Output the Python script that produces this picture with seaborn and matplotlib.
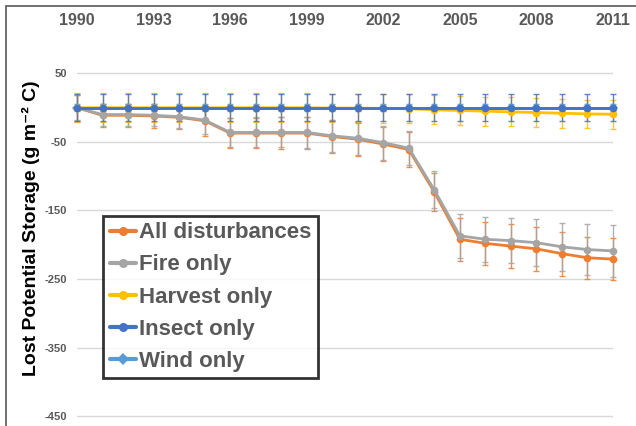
import matplotlib
matplotlib.use("Agg")
import matplotlib.pyplot as plt
import seaborn as sns
import pandas as pd
from matplotlib.lines import Line2D
from matplotlib.patches import Rectangle

# ---------------- data ----------------
years = [1990, 1991, 1992, 1993, 1994, 1995, 1996, 1997, 1998, 1999, 2000,
         2001, 2002, 2003, 2004, 2005, 2006, 2007, 2008, 2009, 2010, 2011]
all_dist = [0, -11, -11, -12, -14, -19, -37, -37, -37, -37, -42,
            -46, -53, -61, -123, -192, -198, -202, -206, -213, -219, -221]
fire_only = [0, -10, -10, -11, -13, -18, -36, -36, -36, -36, -41,
             -44.5, -51, -59, -120, -187, -192, -194, -197, -203, -207, -209]
harvest_only = [0, 0, 0, 0, 0, 0, 0, 0, 0, 0, -0.5,
                -0.5, -1, -1.5, -3, -4, -5, -6, -7, -8, -9, -9.5]
insect_only = [0, 0, 0, 0, 0, 0, 0, 0, 0, 0, 0,
               0, 0, 0, 0, 0, 0, 0, 0, 0, 0, 0]
wind_only = [0, 0, 0, 0, 0, 0, 0, 0, 0, 0, 0,
             0, 0, 0, 0, 0, 0, 0, 0, 0, 0, 0]

all_err = [19, 17, 17, 17, 17, 22, 22, 22, 23, 23, 24,
           24, 25, 26, 28, 31, 31, 32, 32, 32, 31, 31]
fire_err = [18, 16, 16, 16, 16, 21, 21, 22, 22, 23, 23,
            24, 25, 25, 27, 32, 33, 33, 34, 35, 37, 38]
harvest_err = [21, 21, 21, 21, 21, 21, 21, 21, 21, 21, 21,
               21, 21, 21, 21, 21, 21, 21, 21, 21, 21, 21]
insect_err = [20, 20, 20, 20, 20, 20, 20, 20, 20, 20, 20,
              20, 20, 20, 20, 20, 20, 20, 20, 20, 20, 20]
wind_err = [5, 5, 5, 5, 5, 5, 5, 5, 5, 5, 5,
            5, 5, 5, 5, 5, 5, 5, 5, 5, 5, 5]

series_names = ["All disturbances", "Fire only", "Harvest only", "Insect only", "Wind only"]
x_ticks = [1990, 1993, 1996, 1999, 2002, 2005, 2008, 2011]
y_ticks = [50, -50, -150, -250, -350, -450]
y_label = "Lost Potential Storage (g m\u207b\u00b2 C)"

# ---------------- style ----------------
sns.set_theme(style="white")
plt.rcParams["font.family"] = ["Liberation Sans", "DejaVu Sans"]
plt.rcParams["font.weight"] = "bold"

colors = {"All disturbances": "#ED7D31", "Fire only": "#A5A5A5",
          "Harvest only": "#FFC000", "Insect only": "#4472C4",
          "Wind only": "#5B9BD5"}
markers = {"All disturbances": "o", "Fire only": "o", "Harvest only": "o",
           "Insect only": "o", "Wind only": "D"}

W, H = 636, 426
fig = plt.figure(figsize=(W / 100, H / 100), dpi=100)
ax_left, ax_right, ax_top = 77, 613, 60
ax = fig.add_axes([ax_left / W, 0, (ax_right - ax_left) / W, 1 - ax_top / H])

# y mapping: value 0 at px 107.75, 0.685 px per unit
ytop = (107.75 - ax_top) / 0.685
ybot = -(H - 107.75) / 0.685

values = {"All disturbances": all_dist, "Fire only": fire_only,
          "Harvest only": harvest_only, "Insect only": insect_only,
          "Wind only": wind_only}
errors = {"All disturbances": all_err, "Fire only": fire_err,
          "Harvest only": harvest_err, "Insect only": insect_err,
          "Wind only": wind_err}

draw_order = ["Wind only", "All disturbances", "Fire only", "Harvest only", "Insect only"]
for z, name in enumerate(draw_order):
    df = pd.DataFrame({"year": years, "value": values[name]})
    ax.errorbar(years, values[name], yerr=errors[name], fmt="none",
                ecolor=colors[name], elinewidth=1.0, capsize=2.2,
                capthick=1.0, alpha=0.85, zorder=2 + z * 0.1, clip_on=False)
    sns.lineplot(data=df, x="year", y="value", ax=ax, color=colors[name],
                 marker=markers[name], markersize=5.5, markeredgewidth=0,
                 linewidth=2.0, zorder=3 + z * 0.1, clip_on=False,
                 legend=False)

ax.set_xlim(1990, 2011)
ax.set_ylim(ybot, ytop)
ax.set_xticks(x_ticks)
ax.set_xticklabels([str(t) for t in x_ticks])
ax.set_yticks(y_ticks)
ax.set_yticklabels([str(t) for t in y_ticks])
ax.xaxis.tick_top()
ax.tick_params(axis="x", length=0, pad=23, labelsize=11.5, labelcolor="#595959")
ax.tick_params(axis="y", length=0, pad=7, labelsize=8, labelcolor="#595959")
for lab in ax.get_xticklabels() + ax.get_yticklabels():
    lab.set_fontweight("bold")
ax.set_xlabel("")
ax.set_ylabel("")
ax.grid(axis="y", color="#D9D9D9", linewidth=1.0)
ax.grid(axis="x", visible=False)
for s in ax.spines.values():
    s.set_visible(False)
ax.set_facecolor("none")

fig.text(31 / W, 1 - 228 / H, y_label, rotation=90, ha="center", va="center",
         fontsize=14, fontweight="bold", color="black")

# figure border (top/left visible)
fig.add_artist(Rectangle((6 / W, -0.1), 1.2, 1.1 - 6 / H,
                         transform=fig.transFigure, fill=False,
                         edgecolor="#595959", linewidth=1.2))

# legend
handles = [Line2D([0], [0], color=colors[n], marker=markers[n], markersize=6.5,
                  markeredgewidth=0, linewidth=3) for n in series_names]
leg = fig.legend(handles, series_names, loc="upper left",
                 bbox_to_anchor=(103 / W, 1 - 215.7 / H),
                 bbox_transform=fig.transFigure, borderaxespad=0,
                 frameon=True, fancybox=False, edgecolor="black",
                 prop={"size": 16, "weight": "bold"}, labelcolor="#595959",
                 handlelength=1.2, handletextpad=0.1, borderpad=0.3,
                 labelspacing=0.5)
leg.get_frame().set_linewidth(2.0)
leg.get_frame().set_facecolor("white")
leg.set_zorder(10)

fig.savefig("out.png", dpi=100)
